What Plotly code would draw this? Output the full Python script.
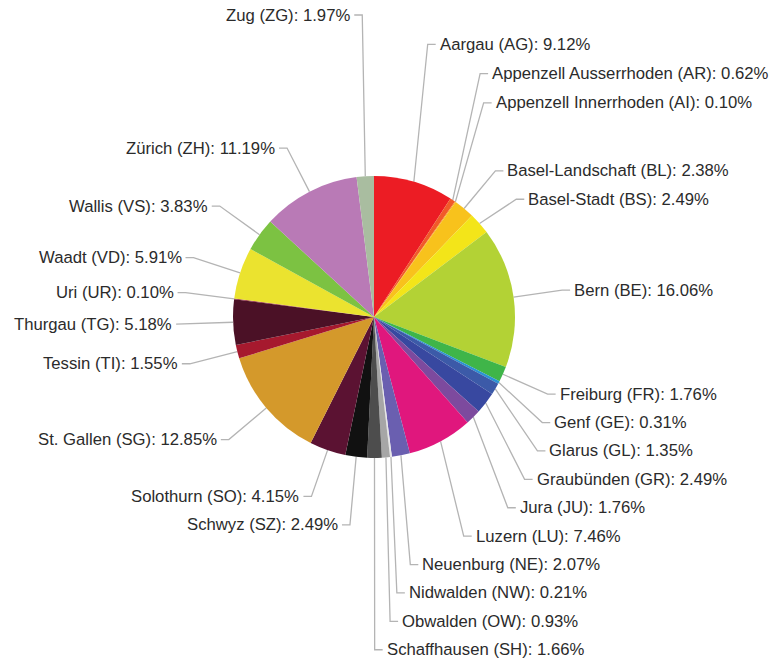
import math
import plotly.graph_objects as go

# ---- data ----
cantons = [
    "Aargau (AG)", "Appenzell Ausserrhoden (AR)", "Appenzell Innerrhoden (AI)",
    "Basel-Landschaft (BL)", "Basel-Stadt (BS)", "Bern (BE)", "Freiburg (FR)",
    "Genf (GE)", "Glarus (GL)", "Graubünden (GR)", "Jura (JU)", "Luzern (LU)",
    "Neuenburg (NE)", "Nidwalden (NW)", "Obwalden (OW)", "Schaffhausen (SH)",
    "Schwyz (SZ)", "Solothurn (SO)", "St. Gallen (SG)", "Tessin (TI)",
    "Thurgau (TG)", "Uri (UR)", "Waadt (VD)", "Wallis (VS)", "Zürich (ZH)",
    "Zug (ZG)",
]
shares = [
    9.12, 0.62, 0.10, 2.38, 2.49, 16.06, 1.76, 0.31, 1.35, 2.49, 1.76, 7.46,
    2.07, 0.21, 0.93, 1.66, 2.49, 4.15, 12.85, 1.55, 5.18, 0.10, 5.91, 3.83,
    11.19, 1.97,
]
colors = [
    "#ec1c24", "#f15a29", "#f7941d", "#f8c21c", "#f3e519", "#b3d235", "#3fb549",
    "#2a93d4", "#3c5aa8", "#3848a0", "#7d4a9e", "#e0177d", "#6a5fb0", "#e6e6e6",
    "#a6a6a6", "#4d4d4d", "#111111", "#5b1232", "#d4992b", "#a6192e", "#4b1126",
    "#8b1a3a", "#ebe32f", "#7cc242", "#b97ab6", "#a9bda0",
]

# ---- layout constants ----
W, H = 769, 659
CX, CY, R = 374, 317, 141       # pie centre / radius in px
R_LABEL = 190                   # radius of leader-line elbows
GAP = 28.4                      # minimum vertical spacing of labels
TOP = 15                        # first slot of the stack above the pie
TOP_GAP = 29.3                  # spacing inside the top stack
TOP_SECTOR = (-10, 37)          # mid-angles (deg, clockwise from 12 o'clock) sent to the top stack
TICK = 8                        # horizontal leader segment
PAD = 2

total = sum(shares)
items = []
cum = 0.0
for name, v in zip(cantons, shares):
    mid_deg = (cum + v / 2) / total * 360.0
    cum += v
    mid = math.radians(mid_deg)
    s, c = math.sin(mid), math.cos(mid)
    signed = mid_deg if mid_deg <= 180 else mid_deg - 360
    items.append(dict(
        text=f"{name}: {v:.2f}%", ang=signed,
        ex=CX + R * s, ey=CY - R * c,
        kx=CX + R_LABEL * s, ky=CY - R_LABEL * c,
        side=1 if s >= 0 else -1,
    ))

# labels around 12 o'clock are stacked from the top, in clockwise order
top_items = sorted([it for it in items if TOP_SECTOR[0] < it["ang"] < TOP_SECTOR[1]],
                   key=lambda d: d["ang"])
y = TOP
last_top = {1: None, -1: None}
for it in top_items:
    it["ky"] = y
    last_top[it["side"]] = y
    y += TOP_GAP

# the rest: top-down on each side, keeping a minimum spacing
for side in (1, -1):
    rest = sorted([it for it in items if it["side"] == side and it not in top_items],
                  key=lambda d: d["ky"])
    prev = last_top[side]
    for it in rest:
        if prev is not None:
            it["ky"] = max(it["ky"], prev + GAP)
        prev = it["ky"]

lx, ly = [], []
annotations = []
for it in items:
    hx = it["kx"] + it["side"] * TICK
    lx += [it["ex"], it["kx"], hx, None]
    ly += [it["ey"], it["ky"], it["ky"], None]
    annotations.append(dict(
        x=hx + it["side"] * PAD, y=it["ky"], xref="x", yref="y",
        text=it["text"], showarrow=False,
        xanchor="left" if it["side"] > 0 else "right", yanchor="middle",
        font=dict(family="Liberation Sans, Arial, sans-serif", size=16.7, color="#2b2b2b"),
    ))

fig = go.Figure()
fig.add_trace(go.Scatter(
    x=lx, y=ly, mode="lines", line=dict(color="#b4b4b4", width=1.3),
    hoverinfo="skip", showlegend=False,
))
fig.add_trace(go.Pie(
    labels=cantons, values=shares, sort=False, direction="clockwise", rotation=0,
    marker=dict(colors=colors, line=dict(width=0)),
    textinfo="none", hoverinfo="label+percent", showlegend=False,
    domain=dict(x=[(CX - R) / W, (CX + R) / W], y=[(H - CY - R) / H, (H - CY + R) / H]),
))
fig.update_layout(
    width=W, height=H, margin=dict(l=0, r=0, t=0, b=0),
    paper_bgcolor="white", plot_bgcolor="rgba(0,0,0,0)",
    xaxis=dict(range=[0, W], visible=False, fixedrange=True),
    yaxis=dict(range=[H, 0], visible=False, fixedrange=True),
    annotations=annotations,
)
fig.write_html("out.html", config={"displayModeBar": False},
               post_script="document.body.style.margin='0';")
